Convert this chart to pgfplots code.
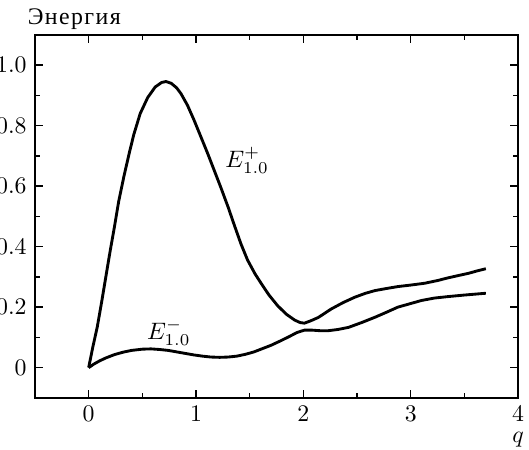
\documentclass[border=0pt]{standalone}
\usepackage{pgfplots}
\pgfplotsset{compat=1.18}
\usepackage{fontspec}
\newfontfamily\cyrfont[LetterSpace=6]{Liberation Serif}

\begin{document}
\begin{tikzpicture}
\begin{axis}[
    scale only axis,
    width=203pt, height=152.5pt,
    xmin=-0.5, xmax=4, ymin=-0.1, ymax=1.1,
    xtick={0,1,2,3,4},
    ytick={0,0.2,0.4,0.6,0.8,1.0},
    yticklabels={$0$,$0.2$,$0.4$,$0.6$,$0.8$,$1.0$},
    minor x tick num=1, minor y tick num=1,
    tick align=inside,
    xtick pos=both, ytick pos=both,
    major tick length=3.2pt, minor tick length=2pt,
    axis line style={line width=0.8pt},
    every tick/.style={black, line width=0.6pt},
    clip=false,
]
\addplot[black, line width=1.2pt, line join=round] coordinates {
(0,0) (0.04,0.07) (0.08,0.134) (0.12,0.215) (0.16,0.30) (0.20,0.385)
(0.24,0.465) (0.28,0.55) (0.33,0.635) (0.38,0.712) (0.42,0.77)
(0.48,0.84) (0.55,0.893) (0.62,0.928) (0.68,0.943) (0.72,0.946)
(0.77,0.94) (0.82,0.925) (0.86,0.906) (0.92,0.868) (0.98,0.82)
(1.04,0.768) (1.11,0.707) (1.17,0.652) (1.23,0.597) (1.30,0.53)
(1.36,0.468) (1.42,0.408) (1.48,0.356) (1.55,0.31) (1.61,0.277)
(1.68,0.24) (1.76,0.205) (1.84,0.177) (1.92,0.157) (1.97,0.149)
(2.01,0.147) (2.07,0.155) (2.14,0.166) (2.20,0.18) (2.26,0.194)
(2.37,0.215) (2.48,0.233) (2.58,0.246) (2.67,0.255) (2.78,0.262)
(2.88,0.268) (3.0,0.273) (3.13,0.279) (3.25,0.288) (3.35,0.297)
(3.45,0.305) (3.54,0.312) (3.62,0.32) (3.70,0.327)
};
\addplot[black, line width=1.2pt, line join=round] coordinates {
(0,0) (0.05,0.012) (0.1,0.022) (0.16,0.032) (0.24,0.043) (0.32,0.051)
(0.4,0.057) (0.5,0.061) (0.58,0.062) (0.66,0.06) (0.74,0.057)
(0.82,0.052) (0.9,0.047) (0.98,0.042) (1.06,0.038) (1.14,0.035)
(1.22,0.034) (1.30,0.035) (1.38,0.038) (1.46,0.044) (1.54,0.052)
(1.62,0.063) (1.70,0.074) (1.79,0.089) (1.87,0.103) (1.94,0.116)
(2.01,0.124) (2.08,0.124) (2.16,0.122) (2.23,0.122) (2.32,0.126)
(2.42,0.133) (2.55,0.15) (2.67,0.167) (2.78,0.184) (2.88,0.20)
(3.0,0.212) (3.10,0.222) (3.22,0.23) (3.35,0.235) (3.5,0.24)
(3.60,0.243) (3.70,0.246)
};
\node[anchor=base west, inner sep=0pt] at (axis cs:1.27,0.662) {$E^{+}_{1.0}$};
\node[anchor=base west, inner sep=0pt] at (axis cs:0.54,0.093) {$E^{-}_{1.0}$};
\node[anchor=north, inner sep=0pt, yshift=-14.3pt] at (rel axis cs:1,0) {$q$};
\node[anchor=base west, inner sep=0pt, xshift=-3.2pt, yshift=4.6pt] at (rel axis cs:0,1)
  {\fontsize{10}{12}\selectfont\cyrfont Энергия};
\coordinate (bl) at (rel axis cs:0,0);
\coordinate (tr) at (rel axis cs:1,1);
\end{axis}
\pgfresetboundingbox
\path ([shift={(-14.7pt,-21.8pt)}]bl) rectangle ([shift={(4.6pt,14.7pt)}]tr);
\end{tikzpicture}
\end{document}
